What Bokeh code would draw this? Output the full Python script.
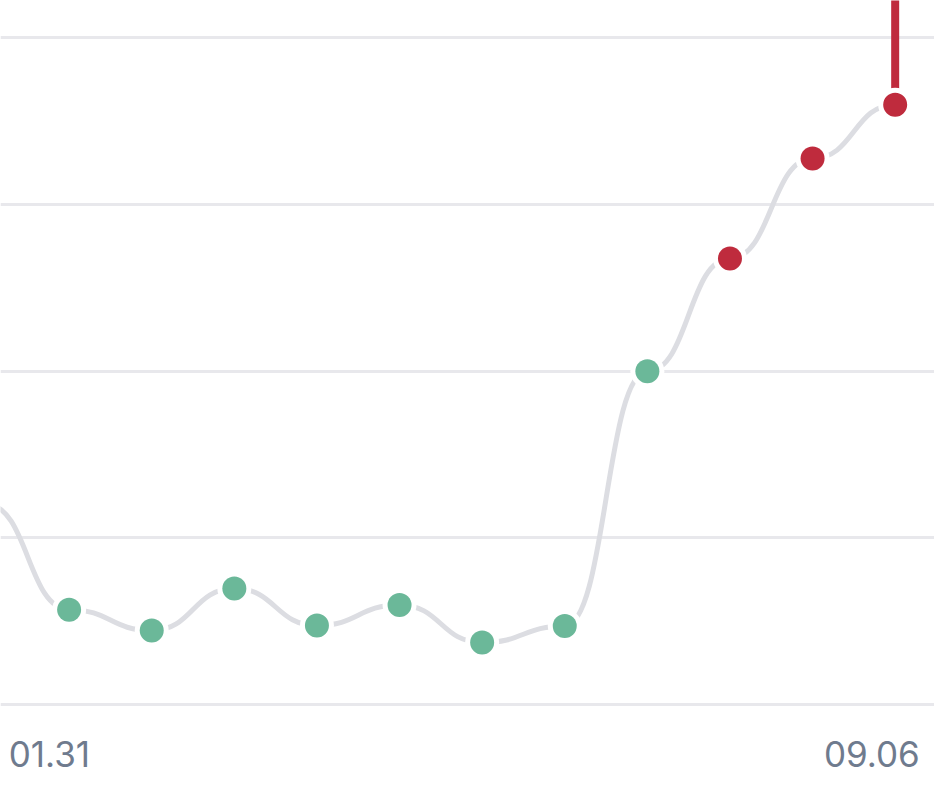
from bokeh.plotting import figure
from bokeh.models import Range1d
from bokeh.core.properties import value
from bokeh.embed import file_html
from bokeh.resources import INLINE

# ---- data ----
lead_index = [-1]          # point just before the visible window (only its curve shows)
lead_values = [12.0]
point_index = [0, 1, 2, 3, 4, 5, 6, 7, 8, 9, 10]
point_values = [5.70, 4.45, 6.97, 4.75, 5.98, 3.73, 4.72, 19.98, 26.74, 32.73, 35.96]
point_status = ["ok", "ok", "ok", "ok", "ok", "ok", "ok", "ok", "high", "high", "high"]
grid_values = [0, 10, 20, 30, 40]
tick_labels = ["01.31", "09.06"]

GREEN = "#6bb899"
RED = "#bf2b3d"
LINE = "#dcdde2"
GRID = "#e8e8ec"
LABEL = "#6f7b8e"

W, H = 934, 795
X0, X1 = -0.8307, 10.476
Y0, Y1 = -5.435, 42.20
p = figure(width=W, height=H, output_backend="svg", toolbar_location=None,
           x_range=Range1d(X0, X1), y_range=Range1d(Y0, Y1),
           min_border=0, outline_line_color=None)
p.xaxis.visible = False
p.yaxis.visible = False
p.xgrid.visible = False
p.ygrid.visible = False
p.background_fill_color = "white"
p.border_fill_color = "white"

# horizontal grid lines
p.hspan(y=grid_values, line_color=GRID, line_width=3)

# smooth "bump" curve: each segment is a cubic bezier with horizontal tangents
xs = lead_index + point_index
ys = lead_values + point_values
x0 = xs[:-1]
x1 = xs[1:]
y0 = ys[:-1]
y1 = ys[1:]
xm = [(a + b) / 2 for a, b in zip(x0, x1)]
p.bezier(x0=x0, y0=y0, x1=x1, y1=y1, cx0=xm, cy0=y0, cx1=xm, cy1=y1,
         line_color=LINE, line_width=5, line_cap="round")

# red marker line rising from the last point
p.segment(x0=[point_index[-1]], y0=[point_values[-1]], x1=[point_index[-1]], y1=[60],
          line_color=RED, line_width=8)

colors = [GREEN if s == "ok" else RED for s in point_status]
p.scatter(point_index, point_values, size=34, fill_color="white", line_color=None)
p.scatter(point_index, point_values, size=24, fill_color=colors, line_color=None)

# x tick labels (first / last date)
p.text(x=[-0.7314], y=[-2.924], text=[tick_labels[0]], text_align="left",
       text_baseline="alphabetic", text_font=value("Inter"), text_font_size="35px",
       text_color=LABEL)
p.text(x=[10.298], y=[-2.924], text=[tick_labels[1]], text_align="right",
       text_baseline="alphabetic", text_font=value("Inter"), text_font_size="35px",
       text_color=LABEL)

open("out.html", "w").write(file_html(p, INLINE))
